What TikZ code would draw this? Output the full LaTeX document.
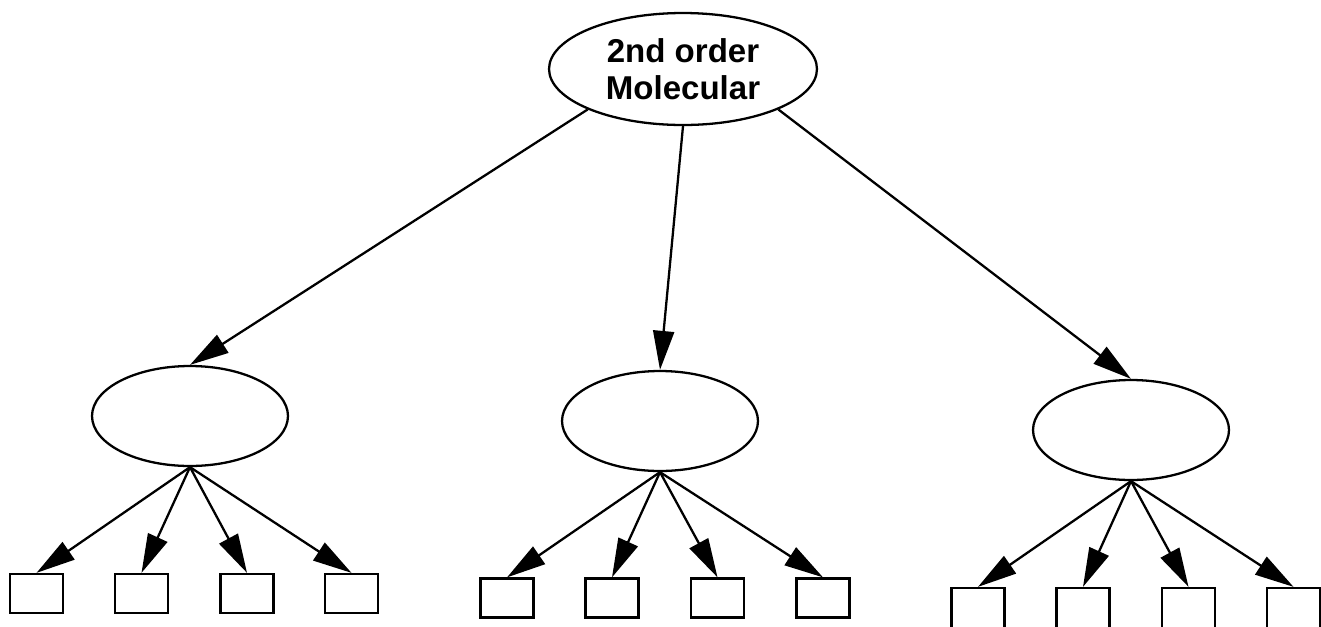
\documentclass[tikz,border=0pt]{standalone}
\usepackage{fontspec}
\setmainfont{Liberation Sans}
\usetikzlibrary{arrows.meta,shapes.geometric}

\tikzset{
    oval/.style={draw, ellipse, line width=1.3pt, inner sep=0pt,
	minimum width=3.92cm, minimum height=2cm},
    leaf/.style={draw, rectangle, line width=1.3pt, inner sep=0pt,
	minimum width=1.06cm, minimum height=0.78cm},
    link/.style={line width=1.3pt, -{Triangle[length=0.78cm, width=0.42cm]}}
}

\begin{document}
\begin{tikzpicture}[x=0.02cm, y=-0.02cm]
    \useasboundingbox (0, 0) rectangle (1321, 626);

    \node [oval, minimum width=5.36cm, minimum height=2.24cm, align=center,
	font=\fontsize{18.8pt}{21pt}\selectfont\bfseries] (mol) at (683, 69)
	{2nd order\\Molecular};

    \node [oval] (a) at (190, 416) {};
    \node [oval] (b) at (660, 421) {};
    \node [oval] (c) at (1131, 430) {};

    \node [leaf] (a1) at (36.5, 593.5) {};
    \node [leaf] (a2) at (141.5, 593.5) {};
    \node [leaf] (a3) at (247, 593.5) {};
    \node [leaf] (a4) at (351.5, 593.5) {};

    \node [leaf] (b1) at (507, 598) {};
    \node [leaf] (b2) at (612, 598) {};
    \node [leaf] (b3) at (717.5, 598) {};
    \node [leaf] (b4) at (823, 598) {};

    % bottom row runs off the page
    \node [leaf, minimum height=0.9cm] (c1) at (978, 610.5) {};
    \node [leaf, minimum height=0.9cm] (c2) at (1083, 610.5) {};
    \node [leaf, minimum height=0.9cm] (c3) at (1188.5, 610.5) {};
    \node [leaf, minimum height=0.9cm] (c4) at (1293.5, 610.5) {};

    \draw [link] (mol.203) -- (a.north);
    \draw [link] (mol.south) -- (b.north);
    \draw [link] (mol.337) -- (c.north);

    \foreach \p in {a, b, c}
	\foreach \i in {1, ..., 4}
	    \draw [link] (\p.south) -- (\p\i.north);
\end{tikzpicture}
\end{document}
